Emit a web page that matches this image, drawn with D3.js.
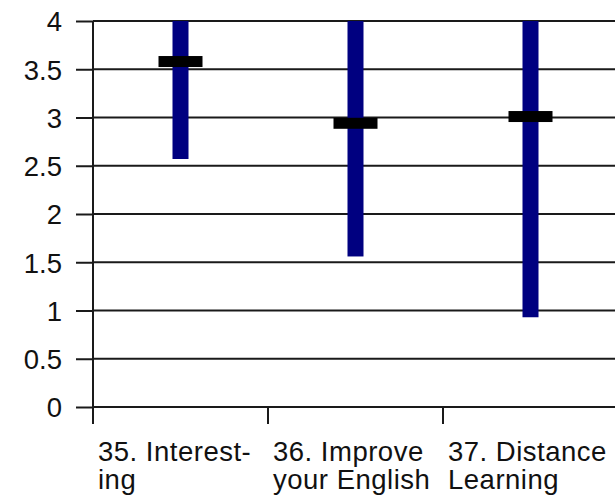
<!DOCTYPE html>
<html>
<head>
<meta charset="utf-8">
<script src="https://cdn.jsdelivr.net/npm/d3@7"></script>
<style>
  html, body { margin: 0; padding: 0; background: #fff; }
  svg { display: block; }
  text { font-family: "Liberation Sans", Arial, sans-serif; }
</style>
</head>
<body>
<svg id="chart" width="615" height="497"></svg>
<script>
// ---- data ----
const categories = ["35. Interesting", "36. Improve your English", "37. Distance Learning"];
const labelLines = [["35. Interest-", "ing"], ["36. Improve", "your English"], ["37. Distance", "Learning"]];
const highValues = [4, 4, 4];
const lowValues = [2.57, 1.56, 0.93];
const meanValues = [3.58, 2.94, 3.01];
const yTickValues = [0, 0.5, 1, 1.5, 2, 2.5, 3, 3.5, 4];
const yTickLabels = ["0", "0.5", "1", "1.5", "2", "2.5", "3", "3.5", "4"];

// ---- layout ----
const W = 615, H = 497;
const plotLeft = 93, plotRight = 618, plotTop = 21, plotBottom = 407;
const svg = d3.select("#chart");

const x = d3.scaleBand().domain(categories).range([plotLeft, plotRight]).padding(0);
const y = d3.scaleLinear().domain([0, 4]).range([plotBottom, plotTop]);

const fontSize = 27.5;

// gridlines
svg.append("g").selectAll("line").data(yTickValues).join("line")
  .attr("x1", plotLeft).attr("x2", W)
  .attr("y1", d => y(d)).attr("y2", d => y(d))
  .attr("stroke", "#1a1a1a").attr("stroke-width", 2);

// y axis
const yAxis = d3.axisLeft(y).tickValues(yTickValues)
  .tickFormat((d, i) => yTickLabels[i]).tickSize(17).tickPadding(14);
const gy = svg.append("g").attr("transform", `translate(${plotLeft},0)`).call(yAxis);
gy.select(".domain").remove();
gy.selectAll(".tick line").attr("stroke", "#1a1a1a").attr("stroke-width", 2);
gy.selectAll(".tick text")
  .attr("font-size", fontSize).attr("fill", "#111")
  .attr("dy", "0.36em");

// vertical axis line
svg.append("line")
  .attr("x1", plotLeft).attr("x2", plotLeft)
  .attr("y1", y(4)).attr("y2", plotBottom + 17)
  .attr("stroke", "#1a1a1a").attr("stroke-width", 2);

// x-axis category boundary ticks
svg.append("g").selectAll("line").data(categories).join("line")
  .attr("x1", d => x(d)).attr("x2", d => x(d))
  .attr("y1", plotBottom).attr("y2", plotBottom + 17)
  .attr("stroke", "#1a1a1a").attr("stroke-width", 2);

// x labels
const lab = svg.append("g").selectAll("text").data(categories).join("text")
  .attr("font-size", fontSize).attr("fill", "#111")
  .style("letter-spacing", "0.5px");
lab.each(function(d, i) {
  const t = d3.select(this);
  labelLines[i].forEach((line, j) => {
    t.append("tspan")
      .attr("x", x(d) + 5)
      .attr("y", 461 + j * 28)
      .text(line);
  });
});

// high-low bars
const barW = 16;
svg.append("g").selectAll("rect").data(categories).join("rect")
  .attr("x", d => x(d) + x.bandwidth() / 2 - barW / 2)
  .attr("width", barW)
  .attr("y", (d, i) => y(highValues[i]))
  .attr("height", (d, i) => y(lowValues[i]) - y(highValues[i]))
  .attr("fill", "#000080");

// mean marks
const mW = 44, mH = 11;
svg.append("g").selectAll("rect").data(categories).join("rect")
  .attr("x", d => x(d) + x.bandwidth() / 2 - mW / 2)
  .attr("width", mW)
  .attr("y", (d, i) => y(meanValues[i]) - mH / 2)
  .attr("height", mH)
  .attr("fill", "#000");
</script>
</body>
</html>
